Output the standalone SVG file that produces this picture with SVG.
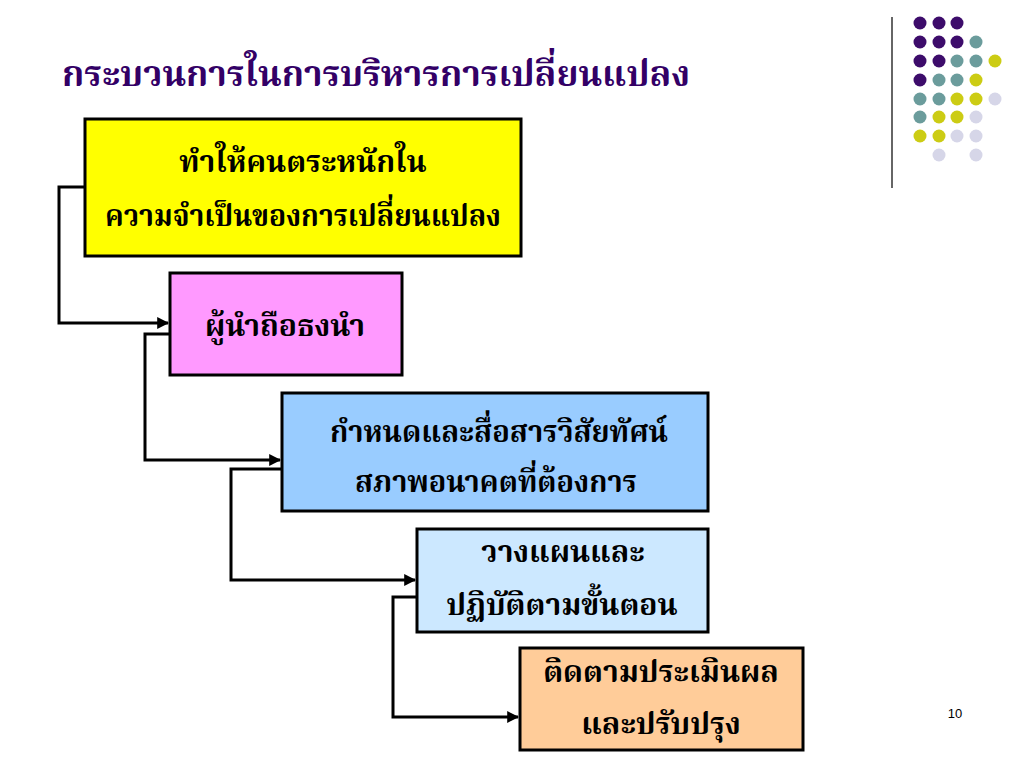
<svg xmlns="http://www.w3.org/2000/svg" width="1024" height="768" viewBox="0 0 1024 768">
<defs>
<style>
.box{stroke:#000;stroke-width:3}
.t{font-family:"Noto Serif Thai","Noto Sans Thai","Liberation Serif","DejaVu Serif",serif;font-weight:bold;font-size:30px;fill:#000;text-anchor:middle}
.title{font-family:"Noto Serif Thai","Noto Sans Thai","Liberation Serif","DejaVu Serif",serif;font-weight:bold;font-size:36px;fill:#330066}
.c{fill:none;stroke:#000;stroke-width:3;marker-end:url(#ah)}
.p{fill:#3d0c6b}.g{fill:#6b9c9c}.y{fill:#cccc14}.l{fill:#d6d6e8}
</style>
<marker id="ah" viewBox="0 0 10 10" refX="9" refY="5" markerWidth="4" markerHeight="4" orient="auto" markerUnits="strokeWidth">
<path d="M0,0 L10,5 L0,10 z" fill="#000"/>
</marker>
</defs>
<rect width="1024" height="768" fill="#fff"/>
<g id="decor">
<line x1="892" y1="17" x2="892" y2="188" stroke="#333" stroke-width="1.5"/>
<g id="dots">
<circle class="p" cx="920" cy="23" r="6.5"/><circle class="p" cx="939" cy="23" r="6.5"/><circle class="p" cx="957" cy="23" r="6.5"/>
<circle class="p" cx="920" cy="42" r="6.5"/><circle class="p" cx="939" cy="42" r="6.5"/><circle class="p" cx="957" cy="42" r="6.5"/><circle class="g" cx="976" cy="42" r="6.5"/>
<circle class="p" cx="920" cy="61" r="6.5"/><circle class="p" cx="939" cy="61" r="6.5"/><circle class="g" cx="957" cy="61" r="6.5"/><circle class="g" cx="976" cy="61" r="6.5"/><circle class="y" cx="995" cy="61" r="6.5"/>
<circle class="p" cx="920" cy="80" r="6.5"/><circle class="g" cx="939" cy="80" r="6.5"/><circle class="g" cx="957" cy="80" r="6.5"/><circle class="y" cx="976" cy="80" r="6.5"/>
<circle class="g" cx="920" cy="99" r="6.5"/><circle class="g" cx="939" cy="99" r="6.5"/><circle class="y" cx="957" cy="99" r="6.5"/><circle class="y" cx="976" cy="99" r="6.5"/><circle class="l" cx="995" cy="99" r="6.5"/>
<circle class="g" cx="920" cy="117" r="6.5"/><circle class="y" cx="939" cy="117" r="6.5"/><circle class="y" cx="957" cy="117" r="6.5"/><circle class="l" cx="976" cy="117" r="6.5"/>
<circle class="y" cx="920" cy="136" r="6.5"/><circle class="y" cx="939" cy="136" r="6.5"/><circle class="l" cx="957" cy="136" r="6.5"/><circle class="l" cx="976" cy="136" r="6.5"/>
<circle class="l" cx="939" cy="155" r="6.5"/><circle class="l" cx="976" cy="155" r="6.5"/>
</g>
</g>
<text class="title" x="62" y="86" textLength="628" lengthAdjust="spacingAndGlyphs">กระบวนการในการบริหารการเปลี่ยนแปลง</text>
<g id="connectors">
<polyline class="c" points="85,187 59,187 59,323 168,323"/>
<polyline class="c" points="170,334 145,334 145,460 280,460"/>
<polyline class="c" points="282,469 231,469 231,580 415,580"/>
<polyline class="c" points="417,597 393,597 393,717 518,717"/>
</g>
<g id="n1">
<rect class="box" x="85" y="119" width="436" height="137" fill="#ffff00"/>
<text class="t" x="303" y="172">ทำให้คนตระหนักใน</text>
<text class="t" x="303" y="226" textLength="396" lengthAdjust="spacingAndGlyphs">ความจำเป็นของการเปลี่ยนแปลง</text>
</g>
<g id="n2">
<rect class="box" x="170" y="273" width="232" height="102" fill="#ff99ff"/>
<text class="t" x="285" y="336">ผู้นำถือธงนำ</text>
</g>
<g id="n3">
<rect class="box" x="282" y="393" width="426" height="118" fill="#99ccff"/>
<text class="t" x="499" y="442" textLength="338" lengthAdjust="spacingAndGlyphs">กำหนดและสื่อสารวิสัยทัศน์</text>
<text class="t" x="496" y="492" textLength="282" lengthAdjust="spacingAndGlyphs">สภาพอนาคตที่ต้องการ</text>
</g>
<g id="n4">
<rect class="box" x="417" y="529" width="291" height="103" fill="#cce8ff"/>
<text class="t" x="563" y="562">วางแผนและ</text>
<text class="t" x="562" y="615">ปฏิบัติตามขั้นตอน</text>
</g>
<g id="n5">
<rect class="box" x="520" y="648" width="283" height="102" fill="#ffcc99"/>
<text class="t" x="661" y="682">ติดตามประเมินผล</text>
<text class="t" x="661" y="734">และปรับปรุง</text>
</g>
<text x="955" y="718" font-family="Liberation Sans, Arial, sans-serif" font-size="13" fill="#000" text-anchor="middle">10</text>
</svg>
